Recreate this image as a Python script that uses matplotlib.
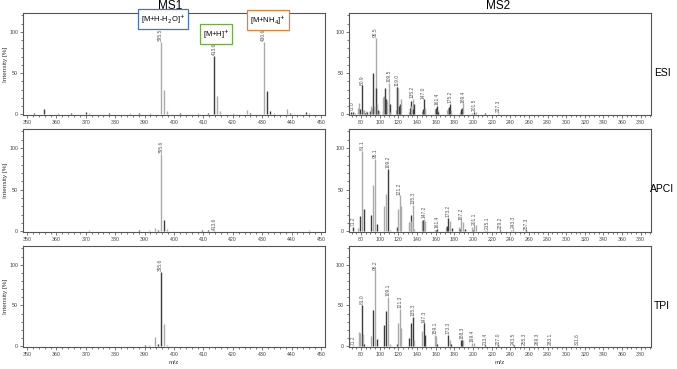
import matplotlib
matplotlib.use("Agg")
import matplotlib.pyplot as plt
from matplotlib.ticker import MultipleLocator

# MS1 spectra (m/z, intensity %, tone l=light d=dark)
esi1_mz = [352.5, 355.8, 360.5, 365.0, 370.0, 371.0, 378.0, 385.0, 388.0, 392.0, 395.5, 396.5, 397.5,
           402.0, 408.0, 411.5, 413.6, 414.6, 415.6, 420.0, 425.0, 426.0, 430.6, 431.6, 432.6, 434.0,
           438.5, 439.5, 445.0, 446.0]
esi1_int = [1, 6, 1, 1, 3, 1, 2, 1, 2, 1, 88, 30, 4, 1, 1, 2, 71, 22, 4, 2, 5, 2, 88, 28, 4, 1, 6, 2, 3, 2]
esi1_tone = ["d", "d", "l", "d", "d", "l", "d", "l", "d", "l", "l", "l", "l", "d", "l", "d", "d", "l", "l",
             "l", "l", "d", "l", "d", "d", "l", "l", "d", "d", "l"]
esi1_labels = ["395.5", "413.6", "430.6"]

apci1_mz = [358.0, 371.0, 378.0, 385.0, 388.0, 391.5, 393.5, 394.5, 395.6, 396.6, 397.6, 402.0, 409.5, 411.6,
            413.6, 420.0, 446.0, 448.0]
apci1_int = [0.5, 1, 0.5, 0.5, 1, 1, 4, 1, 93, 14, 3, 0.5, 1, 2, 1, 0.5, 1, 0.5]
apci1_tone = ["l", "l", "d", "l", "d", "l", "l", "d", "l", "d", "l", "l", "d", "d", "l", "l", "l", "d"]
apci1_labels = ["395.6", "413.6"]

tpi1_mz = [390.0, 391.5, 393.5, 394.5, 395.5, 396.5, 397.5, 405.0, 415.0]
tpi1_int = [1, 2, 11, 3, 91, 27, 1, 0.5, 0.5]
tpi1_tone = ["d", "l", "l", "d", "d", "l", "l", "l", "l"]
tpi1_labels = ["395.6"]

# MS2 spectra
esi2_mz = [69.5, 71.0, 73.0, 77.0, 78.0, 79.0, 80.9, 82.0, 83.0, 84.0, 85.0, 86.0, 89.0, 90.0, 91.0, 92.0,
           93.0, 94.0, 95.5, 96.5, 97.0, 98.0, 99.0, 103.0, 104.0, 105.0, 106.0, 107.0, 108.0, 109.5, 110.5,
           111.0, 117.0, 118.0, 119.0, 120.0, 121.0, 122.0, 123.0, 131.0, 132.0, 133.0, 134.0, 135.2, 136.0,
           137.0, 145.0, 146.0, 147.0, 148.0, 149.0, 159.0, 160.0, 161.4, 162.0, 163.0, 172.0, 173.0, 174.0,
           175.2, 176.0, 186.0, 187.0, 188.0, 189.4, 199.0, 201.5, 203.0, 213.0, 227.3]
esi2_int = [3, 3, 2, 8, 14, 6, 35, 5, 5, 2, 4, 3, 3, 4, 10, 7, 50, 10, 93, 32, 12, 5, 4, 4, 21, 22, 32, 18,
            16, 38, 12, 3, 5, 33, 33, 32, 10, 12, 19, 3, 7, 16, 10, 19, 6, 12, 4, 6, 18, 8, 5, 6, 8, 10, 5,
            3, 5, 8, 9, 12, 5, 3, 6, 8, 13, 2, 3, 3, 2, 2]
esi2_tone = ["d", "d", "l", "l", "l", "d", "d", "l", "l", "d", "l", "d", "l", "d", "l", "l", "d", "l", "l",
             "d", "l", "d", "l", "l", "l", "l", "d", "d", "l", "l", "d", "l", "l", "l", "d", "l", "d", "d",
             "l", "l", "d", "d", "l", "l", "d", "d", "l", "d", "d", "l", "l", "l", "d", "d", "l", "d", "l",
             "l", "d", "d", "l", "l", "d", "d", "l", "l", "d", "l", "d", "l"]
esi2_labels = ["71.0", "80.9", "95.5", "109.5", "119.0", "135.2", "147.0", "161.4", "175.2", "189.4",
               "201.5", "227.3"]

apci2_mz = [71.2, 77.0, 79.0, 81.1, 83.0, 91.0, 93.0, 95.1, 97.0, 105.0, 107.0, 109.2, 111.0, 119.0, 120.0,
            121.2, 123.0, 131.0, 133.0, 134.0, 135.3, 137.0, 145.0, 146.0, 147.2, 149.0, 159.0, 160.0, 161.4,
            171.0, 172.0, 173.2, 175.0, 177.0, 185.0, 186.0, 187.2, 189.0, 191.0, 199.0, 200.0, 201.1, 203.0,
            213.0, 215.1, 229.2, 241.0, 243.3, 257.3]
apci2_int = [5, 4, 18, 97, 27, 20, 56, 87, 9, 30, 45, 75, 2, 5, 27, 43, 30, 11, 20, 12, 32, 3, 13, 14, 15,
             12, 2, 2, 3, 5, 6, 16, 12, 4, 5, 3, 13, 11, 3, 5, 2, 7, 7, 1, 2, 2, 2, 3, 1]
apci2_tone = ["d", "l", "d", "l", "d", "d", "l", "l", "d", "l", "l", "d", "l", "d", "l", "l", "l", "l", "d",
              "l", "l", "l", "l", "d", "l", "l", "l", "d", "d", "l", "d", "d", "l", "d", "l", "d", "l", "l",
              "d", "l", "d", "l", "l", "l", "l", "d", "l", "l", "d"]
apci2_labels = ["71.2", "81.1", "95.1", "109.2", "121.2", "135.3", "147.2", "161.4", "173.2", "187.2",
                "201.1", "215.1", "229.2", "243.3", "257.3"]

tpi2_mz = [71.2, 78.0, 79.0, 81.0, 82.0, 83.0, 91.0, 93.0, 95.2, 97.0, 105.0, 107.0, 109.1, 111.0, 119.0,
           120.0, 121.3, 123.0, 131.0, 133.0, 135.3, 137.0, 145.0, 147.3, 149.0, 159.1, 160.0, 161.0, 173.3,
           175.0, 176.0, 187.0, 188.3, 189.0, 199.4, 201.0, 213.4, 227.0, 243.5, 255.3, 269.3, 283.1, 311.6]
tpi2_int = [1, 17, 16, 51, 15, 3, 13, 44, 93, 9, 26, 43, 61, 3, 3, 28, 46, 22, 10, 28, 36, 8, 19, 28, 14,
            14, 13, 3, 14, 7, 3, 7, 8, 8, 4, 4, 1, 1, 1, 0.5, 0.5, 0.5, 0.5]
tpi2_tone = ["l", "l", "l", "d", "l", "d", "l", "d", "l", "d", "d", "d", "l", "l", "d", "l", "l", "l", "d",
             "d", "d", "l", "l", "d", "d", "l", "l", "d", "d", "l", "d", "d", "d", "l", "l", "l", "d", "d",
             "d", "d", "d", "d", "d"]
tpi2_labels = ["71.2", "81.0", "95.2", "109.1", "121.3", "135.3", "147.3", "159.1", "173.3", "188.3",
               "199.4", "213.4", "227.0", "243.5", "255.3", "269.3", "283.1", "311.6"]

tone_col = {"l": "#ababab", "d": "#3c3c3c"}

W, H = 677, 369
fig = plt.figure(figsize=(W / 100, H / 100), dpi=100)
plt.rcParams["font.family"] = ["Liberation Sans", "DejaVu Sans"]

def px_axes(x0, y0, x1, y1):
    return fig.add_axes([x0 / W, 1 - y1 / H, (x1 - x0) / W, (y1 - y0) / H])

def spectrum(ax, mz, inten, tone, labels, xlim, major, minor):
    ax.vlines(mz, 0, inten, colors=[tone_col[t] for t in tone], linewidth=1.0)
    for lab in labels:
        v = float(lab)
        i = min(range(len(mz)), key=lambda k: abs(mz[k] - v))
        ax.text(mz[i], inten[i] + 1.0, lab, rotation=90, ha="center", va="bottom",
                fontsize=3.5, color="#555555")
    ax.set_xlim(*xlim)
    ax.set_ylim(-1, 123)
    ax.set_yticks([0, 50, 100])
    ax.yaxis.set_minor_locator(MultipleLocator(10))
    ax.xaxis.set_major_locator(MultipleLocator(major))
    ax.xaxis.set_minor_locator(MultipleLocator(minor))
    ax.tick_params(which="both", labelsize=3.8, length=2, width=0.5, pad=1.5, colors="#444444")
    ax.tick_params(which="minor", length=1.2)
    for s in ax.spines.values():
        s.set_color("#555555")
        s.set_linewidth(0.8)

rows = [(13, 115), (129, 232), (246, 347)]
ms1 = [(esi1_mz, esi1_int, esi1_tone, esi1_labels),
       (apci1_mz, apci1_int, apci1_tone, apci1_labels),
       (tpi1_mz, tpi1_int, tpi1_tone, tpi1_labels)]
ms2 = [(esi2_mz, esi2_int, esi2_tone, esi2_labels),
       (apci2_mz, apci2_int, apci2_tone, apci2_labels),
       (tpi2_mz, tpi2_int, tpi2_tone, tpi2_labels)]
names = ["ESI", "APCI", "TPI"]

for r, (y0, y1) in enumerate(rows):
    axl = px_axes(23, y0, 325, y1)
    spectrum(axl, *ms1[r], (348.6, 451.4), 10, 2)
    axl.set_ylabel("Intensity [%]", fontsize=4.6, labelpad=1, color="#333333")
    axr = px_axes(349, y0, 651, y1)
    spectrum(axr, *ms2[r], (67, 391), 20, 5)
    fig.text(662 / W, 1 - (y0 + 60) / H, names[r], fontsize=7.5, ha="center", va="center")
    if r == 2:
        axl.set_xlabel("m/z", fontsize=4.6, labelpad=2, color="#333333")
        axr.set_xlabel("m/z", fontsize=4.6, labelpad=2, color="#333333")

fig.text(170 / W, 1 - 6 / H, "MS1", fontsize=8.5, ha="center", va="center")
fig.text(498 / W, 1 - 6 / H, "MS2", fontsize=8.5, ha="center", va="center")

# adduct boxes on the ESI MS1 panel
boxes = [("[M+H-H$_2$O]$^{+}$", 163, 19, "#4472c4"),
         ("[M+H]$^{+}$", 216, 34, "#70ad47"),
         ("[M+NH$_4$]$^{+}$", 268, 20, "#ed7d31")]
for txt, bx, by, c in boxes:
    fig.text(bx / W, 1 - by / H, txt, fontsize=5.5, ha="center", va="center",
             bbox=dict(boxstyle="square,pad=0.35", fc="white", ec=c, lw=0.9))

fig.savefig("out.png", dpi=100)
